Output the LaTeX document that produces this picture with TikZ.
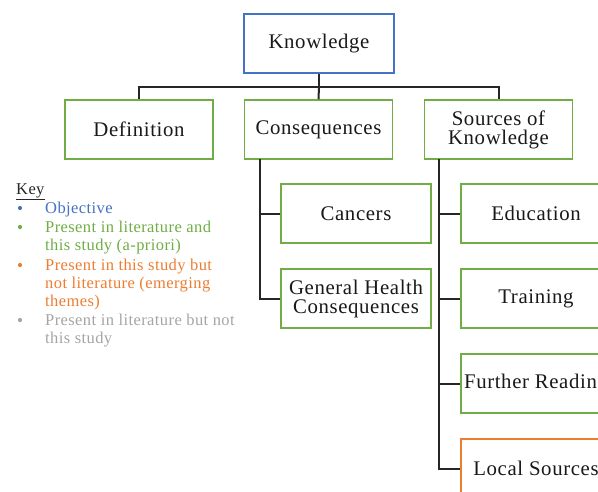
\documentclass[tikz,border=0pt]{standalone}
\usepackage{fontspec}
\setmainfont{Liberation Serif}
\newfontfamily\boxfont[LetterSpace=3]{Liberation Serif}
\newfontfamily\keyfont[LetterSpace=2.5]{Liberation Serif}
\definecolor{kblue}{HTML}{4472C4}
\definecolor{kgreen}{HTML}{70AD47}
\definecolor{korange}{HTML}{ED7D31}
\definecolor{kgray}{HTML}{A5A5A5}
\tikzset{
  box/.style={draw=kgreen, line width=1.5pt, fill=white, minimum width=148pt, minimum height=59pt, inner sep=0pt, align=center, font=\boxfont\fontsize{20.8}{19}\selectfont, text=black!90},
  conn/.style={draw=black!85, line width=2pt},
  keytext/.style={anchor=base west, inner sep=0pt, font=\keyfont\fontsize{16.5}{18}\selectfont},
  bullet/.style={circle, inner sep=0pt, minimum size=4.2pt}
}
\begin{document}
\begin{tikzpicture}[x=1pt,y=-1pt]
\useasboundingbox (0,0) rectangle (598,491);
\clip (0,0) rectangle (598,491);
% top
\node[box, draw=kblue, minimum width=150pt] (know) at (319,43.5) {Knowledge};
\node[box] (def) at (139,129.5) {Definition};
\node[box] (cons) at (318.5,129.5) {Consequences};
\node[box] (src) at (498.5,129.5) {Sources of\\Knowledge};
\coordinate (hb) at (319,87);
\draw[conn] (know.south) -- (hb);
\draw[conn] (def.north) |- (hb) -| (src.north);
\draw[conn] (hb) -- (cons.north);
% consequences children
\node[box, minimum width=150pt] (canc) at (356,213.5) {Cancers};
\node[box, minimum width=150pt] (ghc) at (356,298.5) {General Health\\Consequences};
\coordinate (cl) at (260,159);
\draw[conn] (cl) |- (ghc.west);
\draw[conn] (canc.west) -- (canc.west -| cl);
% sources children
\node[box, minimum width=150pt] (edu) at (536,213.5) {Education};
\node[box, minimum width=150pt] (trn) at (536,298.5) {Training};
\node[box, minimum width=150pt] (frd) at (536,383.5) {Further Reading};
\node[box, minimum width=150pt, draw=korange] (loc) at (536,468.5) {Local Sources};
\coordinate (sl) at (439,159);
\draw[conn] (sl) |- (loc.west);
\draw[conn] (edu.west) -- (edu.west -| sl);
\draw[conn] (trn.west) -- (trn.west -| sl);
\draw[conn] (frd.west) -- (frd.west -| sl);
% key
\node[keytext, text=black!85] (key) at (16,194) {\underline{Key}};
\node[keytext, text=kblue] (k1) at (45,213) {Objective};
\node[keytext, text=kgreen] (k2a) at (45,232) {Present in literature and};
\node[keytext, text=kgreen] (k2b) at (45,250.5) {this study (a-priori)};
\node[keytext, text=korange] (k3a) at (45,270) {Present in this study but};
\node[keytext, text=korange] (k3b) at (45,288) {not literature (emerging};
\node[keytext, text=korange] (k3c) at (45,306) {themes)};
\node[keytext, text=kgray] (k4a) at (45,325) {Present in literature but not};
\node[keytext, text=kgray] (k4b) at (45,343) {this study};
\node[bullet, fill=kblue] (b1) at (20,208) {};
\node[bullet, fill=kgreen] (b2) at (20,227) {};
\node[bullet, fill=korange] (b3) at (20,265) {};
\node[bullet, fill=kgray] (b4) at (20,320) {};
\end{tikzpicture}
\end{document}
